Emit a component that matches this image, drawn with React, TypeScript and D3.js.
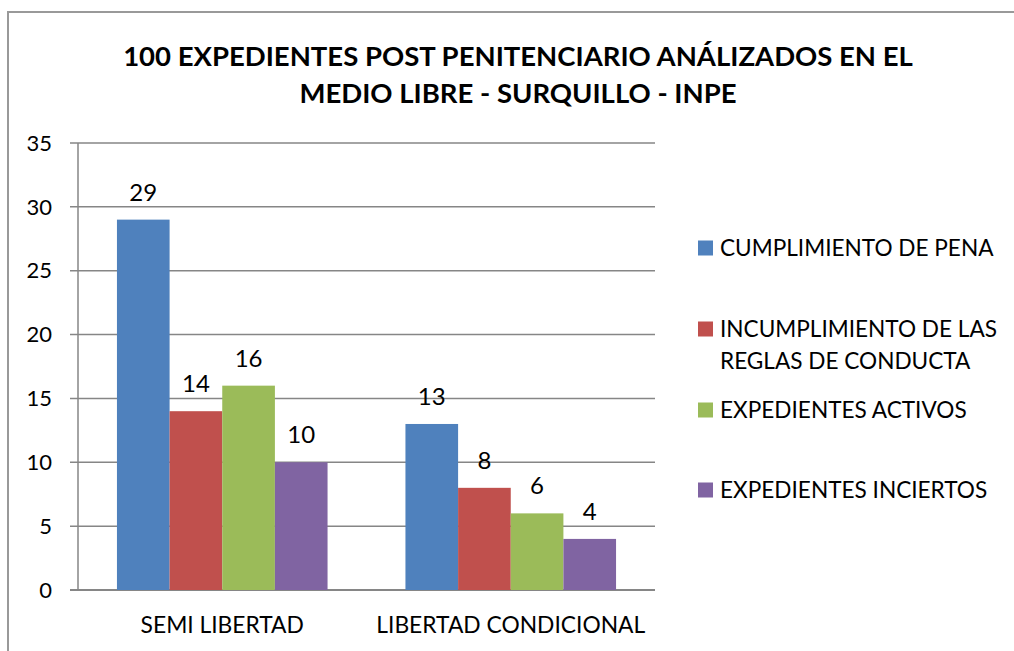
import React from "react";
import * as d3 from "d3";

const categories = ["SEMI LIBERTAD", "LIBERTAD CONDICIONAL"];
const seriesNames = [
  "CUMPLIMIENTO DE PENA",
  "INCUMPLIMIENTO DE LAS REGLAS DE CONDUCTA",
  "EXPEDIENTES ACTIVOS",
  "EXPEDIENTES INCIERTOS",
];
const cumplimiento = [29, 13];
const incumplimiento = [14, 8];
const activos = [16, 6];
const inciertos = [10, 4];
const yTicks = [0, 5, 10, 15, 20, 25, 30, 35];
const titleLines = [
  "100 EXPEDIENTES POST PENITENCIARIO ANÁLIZADOS EN EL",
  "MEDIO LIBRE - SURQUILLO - INPE",
];
const legendLines = [
  ["CUMPLIMIENTO DE PENA"],
  ["INCUMPLIMIENTO DE LAS", "REGLAS DE CONDUCTA"],
  ["EXPEDIENTES ACTIVOS"],
  ["EXPEDIENTES INCIERTOS"],
];
const colors = ["#4F81BD", "#C0504D", "#9BBB59", "#8064A2"];

const W = 1014;
const H = 651;
const FONT = "Lato, 'Liberation Sans', sans-serif";

export default function App() {
  const series = [cumplimiento, incumplimiento, activos, inciertos];
  const plotL = 78, plotR = 655, plotT = 143, plotB = 590;
  const y = d3.scaleLinear().domain([0, 35]).range([plotB, plotT]);
  const x0 = d3.scaleBand().domain(categories).range([plotL, plotR]).paddingInner(0.27).paddingOuter(0.135);
  const x1 = d3.scaleBand().domain(seriesNames).range([0, x0.bandwidth()]);
  const legendY = [248, 329, 410, 490];

  return (
    <svg width={W} height={H} style={{ position: "absolute", left: 0, top: 0, background: "#fff" }}>
      <rect x={8} y={12} width={1010} height={660} fill="#fff" stroke="#999" strokeWidth={2} />
      {titleLines.map((t, i) => (
        <text key={i} x={518} y={66 + i * 37} textAnchor="middle" fontFamily={FONT} fontWeight="bold" fontSize={27.5} fill="#000">
          {t}
        </text>
      ))}
      {yTicks.map((t) => (
        <g key={t}>
          <line x1={70} x2={plotR} y1={y(t)} y2={y(t)} stroke="#868686" strokeWidth={1.5} />
          <text x={52} y={y(t)} dy="0.35em" textAnchor="end" fontFamily={FONT} fontSize={22} fill="#000">
            {t}
          </text>
        </g>
      ))}
      <line x1={plotL} x2={plotL} y1={plotT} y2={plotB} stroke="#868686" strokeWidth={1.5} />
      <line x1={70} x2={plotR} y1={plotB} y2={plotB} stroke="#868686" strokeWidth={2} />
      {categories.map((c, ci) => (
        <g key={c}>
          {series.map((s, si) => {
            const bx = (x0(c) as number) + (x1(seriesNames[si]) as number);
            return (
              <g key={si}>
                <rect x={bx} y={y(s[ci])} width={x1.bandwidth()} height={plotB - y(s[ci])} fill={colors[si]} />
                <text x={bx + x1.bandwidth() / 2} y={y(s[ci]) - 19} textAnchor="middle" fontFamily={FONT} fontSize={24} fill="#000">
                  {s[ci]}
                </text>
              </g>
            );
          })}
          <text x={(x0(c) as number) + x0.bandwidth() / 2} y={633} textAnchor="middle" fontFamily={FONT} fontSize={22.8} fill="#000">
            {c}
          </text>
        </g>
      ))}
      {legendLines.map((lines, i) => (
        <g key={i}>
          <rect x={698} y={legendY[i] - 7.5} width={15} height={15} fill={colors[i]} />
          {lines.map((l, j) => (
            <text key={j} x={720} y={legendY[i] + j * 32} dy="0.36em" fontFamily={FONT} fontSize={22.6} fill="#000">
              {l}
            </text>
          ))}
        </g>
      ))}
    </svg>
  );
}
